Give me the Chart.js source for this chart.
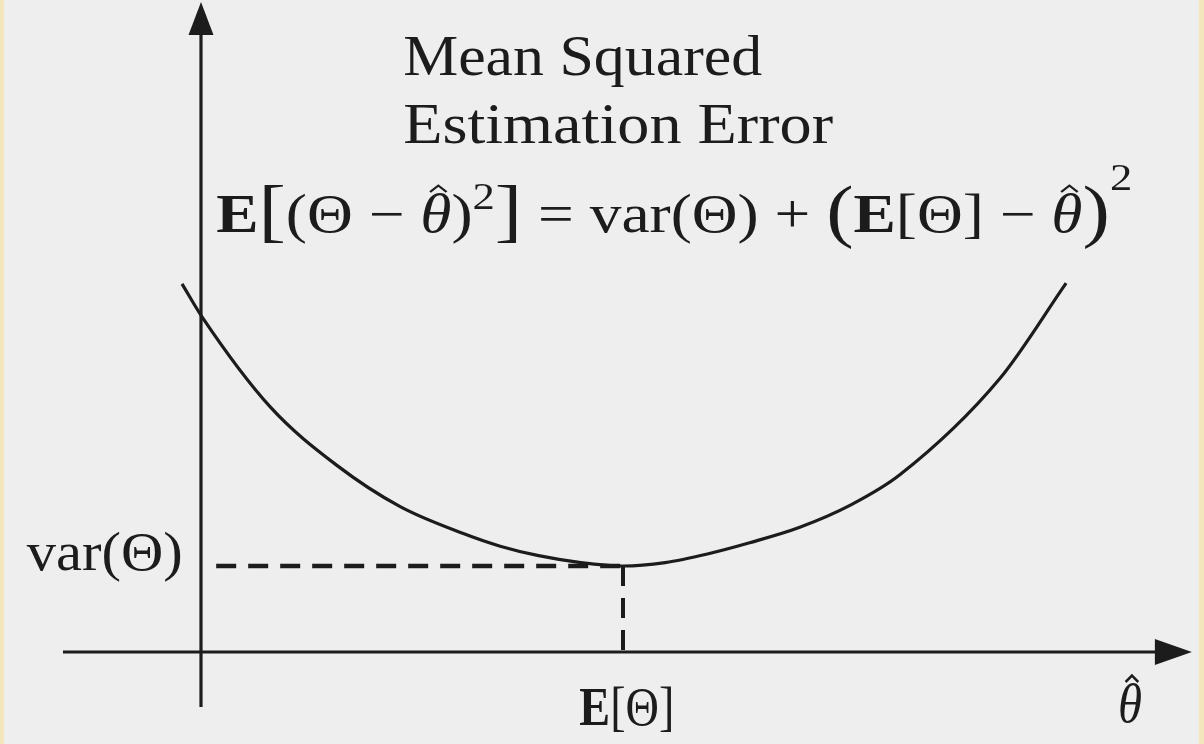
<!DOCTYPE html>
<html>
<head>
<meta charset="utf-8">
<script src="https://cdn.jsdelivr.net/npm/chart.js@4/dist/chart.umd.min.js"></script>
<style>
  html, body { margin: 0; padding: 0; background: #ededed; }
  canvas { display: block; }
</style>
</head>
<body>
<canvas id="mse" width="1204" height="744"></canvas>
<script>
// curve: estimate theta-hat vs mean squared error
// (units: E[Theta] = 1 on x, var(Theta) = 1 on y)
const thetaHat = [-0.045, 0.002, 0.164, 0.322, 0.472, 0.62, 0.709, 0.80, 0.90, 1.0, 1.10, 1.20, 1.30, 1.419, 1.54, 1.656, 1.893, 2.05];
const mse = [4.28, 3.90, 2.85, 2.17, 1.69, 1.38, 1.23, 1.12, 1.04, 1.0, 1.04, 1.14, 1.27, 1.45, 1.71, 2.06, 3.18, 4.29];

const meanTheta = 1;   // E[Theta]
const varTheta = 1;    // var(Theta)

// axis extents (data units)
const xAxisRange = [-0.327, 2.348];
const yAxisRange = [-0.64, 7.558];

const INK = '#1c1c1c';
const SERIF = '"Liberation Serif", "DejaVu Serif", serif';

// draws a run of text pieces, stretched to a target width
function drawRich(ctx, pieces, x, baseline, size, targetW, align) {
  let total = 0;
  const widths = pieces.map((p) => {
    ctx.font = `${p.style || ''} ${p.bold ? 'bold' : ''} ${Math.round(size * (p.s || 1))}px ${SERIF}`;
    const w = ctx.measureText(p.t).width;
    total += w;
    return w;
  });
  const sx = targetW ? targetW / total : 1;
  let left = x;
  if (align === 'right') left = x - total * sx;
  if (align === 'center') left = x - total * sx / 2;

  ctx.save();
  ctx.translate(left, baseline);
  ctx.scale(sx, 1);
  ctx.fillStyle = INK;
  ctx.strokeStyle = INK;
  ctx.textBaseline = 'alphabetic';
  let cx = 0;
  pieces.forEach((p, i) => {
    ctx.font = `${p.style || ''} ${p.bold ? 'bold' : ''} ${Math.round(size * (p.s || 1))}px ${SERIF}`;
    ctx.fillText(p.t, cx, (p.dy || 0) * size);
    if (p.hat) {
      const mid = cx + widths[i] * 0.58;
      const top = -0.86 * size;
      ctx.lineWidth = 2.4 / sx;
      ctx.beginPath();
      ctx.moveTo(mid - 0.13 * size, top + 0.12 * size);
      ctx.lineTo(mid, top);
      ctx.lineTo(mid + 0.13 * size, top + 0.12 * size);
      ctx.stroke();
    }
    cx += widths[i];
  });
  ctx.restore();
}

const paperPlugin = {
  id: 'paper',
  beforeDraw(chart) {
    const { ctx, width, height } = chart;
    ctx.save();
    ctx.fillStyle = '#eeeeee';
    ctx.fillRect(0, 0, width, height);
    ctx.fillStyle = '#f3e6bd';
    ctx.fillRect(0, 0, 4, height);
    ctx.fillRect(width - 5, 0, 5, height);
    ctx.restore();
  }
};

const annotatePlugin = {
  id: 'annotate',
  afterDatasetsDraw(chart) {
    const { ctx, scales: { x, y } } = chart;

    // arrow heads
    ctx.save();
    ctx.fillStyle = INK;
    const ox = x.getPixelForValue(0);
    const tipY = y.getPixelForValue(yAxisRange[1]);
    ctx.beginPath();
    ctx.moveTo(ox, tipY);
    ctx.lineTo(ox - 12.5, tipY + 33);
    ctx.lineTo(ox + 12.5, tipY + 33);
    ctx.closePath();
    ctx.fill();

    const oy = y.getPixelForValue(0);
    const tipX = x.getPixelForValue(xAxisRange[1]);
    ctx.beginPath();
    ctx.moveTo(tipX, oy);
    ctx.lineTo(tipX - 37, oy - 13);
    ctx.lineTo(tipX - 37, oy + 13);
    ctx.closePath();
    ctx.fill();
    ctx.restore();

    // title
    drawRich(ctx, [{ t: 'Mean Squared' }], x.getPixelForValue(0.479), y.getPixelForValue(6.709), 58, 359);
    drawRich(ctx, [{ t: 'Estimation Error' }], x.getPixelForValue(0.479), y.getPixelForValue(5.919), 58, 430);

    // decomposition formula
    drawRich(ctx, [
      { t: 'E', bold: true },
      { t: '[', s: 1.3, dy: 0.03 },
      { t: '(Θ − ' },
      { t: 'θ', style: 'italic', hat: true },
      { t: ')' },
      { t: '2', s: 0.7, dy: -0.42 },
      { t: ']', s: 1.3, dy: 0.03 },
      { t: ' = var(Θ) + ' },
      { t: '(', s: 1.3, dy: 0.03 },
      { t: 'E', bold: true },
      { t: '[Θ] − ' },
      { t: 'θ', style: 'italic', hat: true },
      { t: ')', s: 1.3, dy: 0.03 },
      { t: '2', s: 0.7, dy: -0.78 }
    ], x.getPixelForValue(0.036), y.getPixelForValue(4.884), 54, 916);

    // axis labels
    drawRich(ctx, [{ t: 'var(Θ)' }], x.getPixelForValue(-0.043), y.getPixelForValue(0.953), 54, 156, 'right');
    drawRich(ctx, [{ t: 'E', bold: true }, { t: '[Θ]' }], x.getPixelForValue(1.009), y.getPixelForValue(-0.849), 54, 95, 'center');
    drawRich(ctx, [{ t: 'θ', style: 'italic', hat: true }], x.getPixelForValue(2.173), y.getPixelForValue(-0.814), 54, 24);
  }
};

const curvePoints = thetaHat.map((t, i) => ({ x: t, y: mse[i] }));

new Chart(document.getElementById('mse'), {
  type: 'scatter',
  data: {
    datasets: [
      {
        label: 'MSE',
        data: curvePoints,
        showLine: true,
        borderColor: INK,
        borderWidth: 3.2,
        pointRadius: 0,
        cubicInterpolationMode: 'monotone'
      },
      {
        label: 'var level',
        data: [{ x: 0.036, y: varTheta }, { x: meanTheta, y: varTheta }],
        showLine: true,
        borderColor: INK,
        borderWidth: 4.5,
        borderDash: [20, 12],
        pointRadius: 0
      },
      {
        label: 'mean drop',
        data: [{ x: meanTheta, y: varTheta }, { x: meanTheta, y: 0 }],
        showLine: true,
        borderColor: INK,
        borderWidth: 4,
        borderDash: [20, 12],
        pointRadius: 0
      },
      {
        label: 'x axis',
        data: [{ x: xAxisRange[0], y: 0 }, { x: xAxisRange[1] - 0.06, y: 0 }],
        showLine: true,
        borderColor: INK,
        borderWidth: 3.2,
        pointRadius: 0
      },
      {
        label: 'y axis',
        data: [{ x: 0, y: yAxisRange[0] }, { x: 0, y: yAxisRange[1] - 0.3 }],
        showLine: true,
        borderColor: INK,
        borderWidth: 3.2,
        pointRadius: 0
      }
    ]
  },
  options: {
    responsive: false,
    animation: false,
    devicePixelRatio: 1,
    layout: { padding: 0 },
    plugins: { legend: { display: false }, tooltip: { enabled: false } },
    scales: {
      x: { type: 'linear', display: false, min: -201 / 422, max: 1003 / 422 },
      y: { type: 'linear', display: false, min: -92 / 86, max: 652 / 86 }
    }
  },
  plugins: [paperPlugin, annotatePlugin]
});
</script>
</body>
</html>
